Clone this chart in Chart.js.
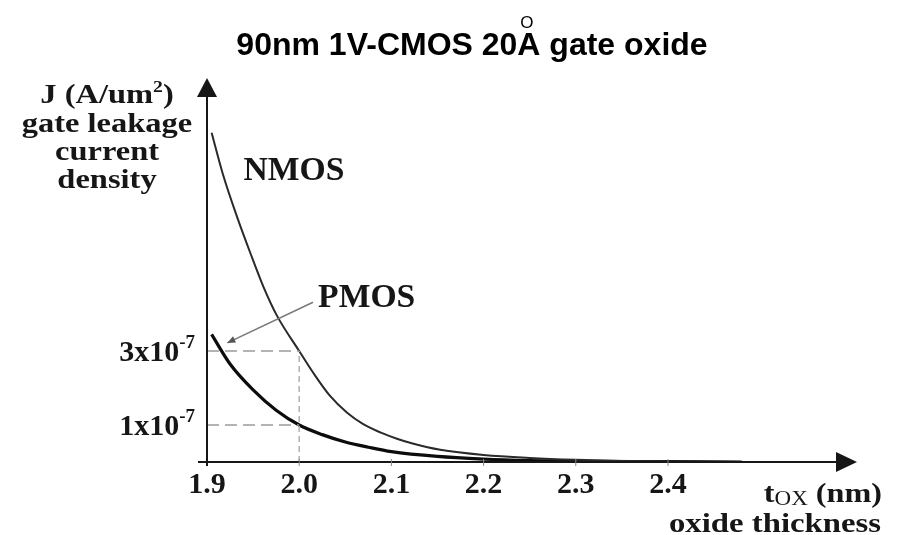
<!DOCTYPE html>
<html>
<head>
<meta charset="utf-8">
<title>90nm 1V-CMOS gate oxide leakage</title>
<script src="https://cdn.jsdelivr.net/npm/chart.js@4.4.1/dist/chart.umd.min.js"></script>
<style>
  html, body { margin: 0; padding: 0; background: #fff; }
  #chart { display: block; }
</style>
</head>
<body>
<canvas id="chart" width="901" height="535"></canvas>
<script>
// oxide thickness tox (nm) vs gate leakage J, J in units of 1e-7 A/um^2
const xTickValues = [1.9, 2.0, 2.1, 2.2, 2.3, 2.4];
const yTickValues = [1, 3];

const nmosTox = [1.905, 1.917, 1.933, 1.947, 1.961, 1.976, 2.0, 2.015, 2.033, 2.052, 2.069, 2.088, 2.106, 2.123, 2.153, 2.2, 2.25, 2.3, 2.35, 2.4, 2.48];
const nmosJ   = [8.9, 7.8, 6.6, 5.65, 4.75, 3.95, 3.0, 2.42, 1.8, 1.33, 1.03, 0.8, 0.63, 0.5, 0.33, 0.19, 0.11, 0.06, 0.03, 0.015, 0];

const pmosTox = [1.905, 1.925, 1.95, 1.975, 2.0, 2.025, 2.05, 2.075, 2.1, 2.15, 2.2, 2.25, 2.3, 2.4, 2.48];
const pmosJ   = [3.45, 2.65, 1.95, 1.4, 1.0, 0.74, 0.54, 0.4, 0.28, 0.15, 0.08, 0.04, 0.02, 0.01, 0];

// dashed read-off lines at tox = 2.0 nm
const markTox = 2.0;
const markJ = [1, 3];

const serif = '"Liberation Serif", "Times New Roman", serif';
const sans = '"Liberation Sans", Arial, sans-serif';
const ink = '#161616';

// draw a run of text pieces [text, font, dy], optionally stretched horizontally
function drawParts(ctx, parts, x, y, align, sx) {
    let w = 0;
    parts.forEach(p => { ctx.font = p[1]; w += ctx.measureText(p[0]).width; });
    w *= sx;
    let cx = align === 'center' ? x - w / 2 : (align === 'right' ? x - w : x);
    ctx.textAlign = 'left';
    ctx.textBaseline = 'alphabetic';
    parts.forEach(p => {
        ctx.font = p[1];
        const pw = ctx.measureText(p[0]).width * sx;
        ctx.save();
        ctx.translate(cx, y + (p[2] || 0));
        ctx.scale(sx, 1);
        ctx.fillText(p[0], 0, 0);
        ctx.restore();
        cx += pw;
    });
}

const sketchAxes = {
    id: 'sketchAxes',
    afterDatasetsDraw(chart) {
        const { ctx, chartArea: area, scales: { x, y } } = chart;
        const x0 = x.getPixelForValue(xTickValues[0]);
        const y0 = y.getPixelForValue(0);

        ctx.save();
        ctx.strokeStyle = ink;
        ctx.fillStyle = ink;
        ctx.lineWidth = 2;

        // x axis with arrow
        ctx.beginPath();
        ctx.moveTo(x0 - 9, y0);
        ctx.lineTo(area.right - 18, y0);
        ctx.stroke();
        ctx.beginPath();
        ctx.moveTo(area.right, y0);
        ctx.lineTo(area.right - 21, y0 - 10);
        ctx.lineTo(area.right - 21, y0 + 10);
        ctx.closePath();
        ctx.fill();

        // y axis with arrow
        ctx.beginPath();
        ctx.moveTo(x0, y0 + 4);
        ctx.lineTo(x0, area.top + 17);
        ctx.stroke();
        ctx.beginPath();
        ctx.moveTo(x0, area.top);
        ctx.lineTo(x0 - 10, area.top + 19);
        ctx.lineTo(x0 + 10, area.top + 19);
        ctx.closePath();
        ctx.fill();

        // small tick marks
        ctx.strokeStyle = '#888';
        ctx.lineWidth = 1;
        xTickValues.slice(1).forEach(v => {
            const px = x.getPixelForValue(v);
            ctx.beginPath();
            ctx.moveTo(px, y0 - 3);
            ctx.lineTo(px, y0 + 4);
            ctx.stroke();
        });

        // x tick labels
        ctx.fillStyle = ink;
        xTickValues.forEach(v => {
            drawParts(ctx, [[v.toFixed(1), 'bold 30px ' + serif]], x.getPixelForValue(v), y0 + 31, 'center', 1);
        });

        // y tick labels
        yTickValues.forEach(v => {
            const py = y.getPixelForValue(v);
            drawParts(ctx, [
                [v + 'x10', 'bold 30px ' + serif],
                ['-7', 'bold 19px ' + serif, -13]
            ], x0 - 12, py + 10, 'right', 1);
        });

        // curve labels
        const nx = x.getPixelForValue(1.9395), ny = y.getPixelForValue(7.62);
        drawParts(ctx, [['NMOS', 'bold 33px ' + serif]], nx, ny, 'left', 1.02);
        const px = x.getPixelForValue(2.0205), py = y.getPixelForValue(4.2);
        drawParts(ctx, [['PMOS', 'bold 33px ' + serif]], px, py, 'left', 1.02);

        // PMOS pointer
        const ax1 = x.getPixelForValue(2.015), ay1 = y.getPixelForValue(4.32);
        const ax2 = x.getPixelForValue(1.922), ay2 = y.getPixelForValue(3.22);
        ctx.strokeStyle = '#7a7a7a';
        ctx.fillStyle = '#555';
        ctx.lineWidth = 1.6;
        ctx.beginPath();
        ctx.moveTo(ax1, ay1);
        ctx.lineTo(ax2, ay2);
        ctx.stroke();
        const ang = Math.atan2(ay2 - ay1, ax2 - ax1);
        ctx.beginPath();
        ctx.moveTo(ax2, ay2);
        ctx.lineTo(ax2 - 8 * Math.cos(ang) + 3.5 * Math.sin(ang), ay2 - 8 * Math.sin(ang) - 3.5 * Math.cos(ang));
        ctx.lineTo(ax2 - 8 * Math.cos(ang) - 3.5 * Math.sin(ang), ay2 - 8 * Math.sin(ang) + 3.5 * Math.cos(ang));
        ctx.closePath();
        ctx.fill();
        ctx.restore();
    },
    afterDraw(chart) {
        const { ctx } = chart;
        ctx.save();
        ctx.fillStyle = ink;

        // y axis title
        const yt = 'bold 28px ' + serif;
        drawParts(ctx, [['J (A/um', yt], ['2', 'bold 17px ' + serif, -11], [')', yt]], 107, 103, 'center', 1.16);
        drawParts(ctx, [['gate leakage', yt]], 107, 132, 'center', 1.16);
        drawParts(ctx, [['current', yt]], 107, 160, 'center', 1.16);
        drawParts(ctx, [['density', yt]], 107, 188, 'center', 1.16);

        // x axis title
        drawParts(ctx, [['t', yt], ['OX', '20px ' + serif, 3], [' (nm)', yt]], 882, 502, 'right', 1.15);
        drawParts(ctx, [['oxide thickness', yt]], 881, 532, 'right', 1.17);

        // chart title, with the angstrom ring set above the A
        ctx.fillStyle = '#000';
        const tf = 'bold 32px ' + sans;
        const title = '90nm 1V-CMOS 20A gate oxide';
        ctx.font = tf;
        const tw = ctx.measureText(title).width;
        const tx = 472 - tw / 2;
        drawParts(ctx, [[title, tf]], tx, 55, 'left', 1);
        ctx.font = tf;
        const aLeft = ctx.measureText('90nm 1V-CMOS 20').width;
        const aW = ctx.measureText('A').width;
        drawParts(ctx, [['O', '17px ' + sans]], tx + aLeft + aW / 2 - 2, 28, 'center', 1);
        ctx.restore();
    }
};

const guideStyle = {
    borderColor: '#9a9a9a',
    borderWidth: 1.5,
    borderDash: [12, 6],
    pointRadius: 0,
    fill: false
};

const chart = new Chart(document.getElementById('chart'), {
    type: 'line',
    data: {
        datasets: [
            {
                label: '3e-7 guide',
                data: [{ x: xTickValues[0], y: markJ[1] }, { x: markTox, y: markJ[1] }],
                ...guideStyle
            },
            {
                label: '1e-7 guide',
                data: [{ x: xTickValues[0], y: markJ[0] }, { x: markTox, y: markJ[0] }],
                ...guideStyle
            },
            {
                label: '2.0 nm guide',
                data: [{ x: markTox, y: 0 }, { x: markTox, y: markJ[1] }],
                ...guideStyle,
                borderColor: '#b0b0b0',
                borderDash: [6, 4]
            },
            {
                label: 'NMOS',
                data: nmosTox.map((t, i) => ({ x: t, y: nmosJ[i] })),
                borderColor: '#2a2a2a',
                borderWidth: 2,
                pointRadius: 0,
                cubicInterpolationMode: 'monotone',
                fill: false
            },
            {
                label: 'PMOS',
                data: pmosTox.map((t, i) => ({ x: t, y: pmosJ[i] })),
                borderColor: '#0c0c0c',
                borderWidth: 3.2,
                pointRadius: 0,
                cubicInterpolationMode: 'monotone',
                fill: false
            }
        ]
    },
    options: {
        responsive: false,
        animation: false,
        devicePixelRatio: 1,
        layout: { padding: { left: 207, right: 44, top: 78, bottom: 73 } },
        scales: {
            x: { type: 'linear', min: 1.9, max: 2.605, display: false },
            y: { type: 'linear', min: 0, max: 10.38, display: false }
        },
        plugins: {
            legend: { display: false },
            tooltip: { enabled: false }
        }
    },
    plugins: [sketchAxes]
});
</script>
</body>
</html>
